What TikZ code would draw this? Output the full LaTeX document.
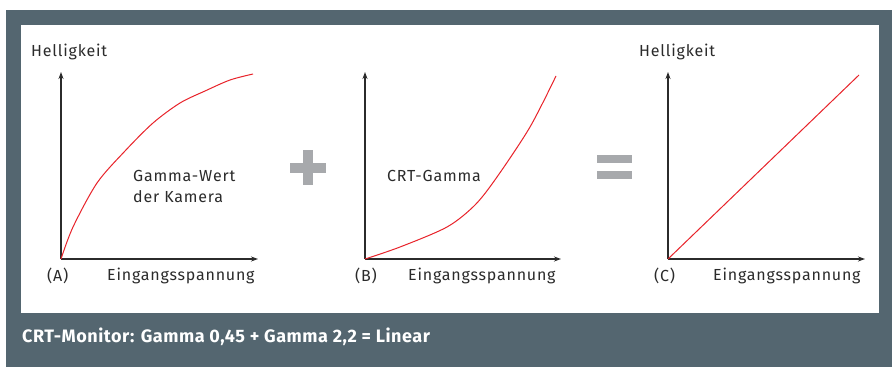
\documentclass[tikz,border=0pt]{standalone}
\usepackage{fontspec}
\setmainfont{Fira Sans}
\newfontfamily\lblfont[LetterSpace=5]{Fira Sans}
\newfontfamily\capfont[LetterSpace=3]{Fira Sans}
\usepackage{tikz}
\usetikzlibrary{positioning,arrows.meta}

\definecolor{frame}{HTML}{546670}
\definecolor{opgray}{HTML}{A7A9AC}
\definecolor{ink}{HTML}{2B2B2B}
\definecolor{gred}{HTML}{E8232A}

\tikzset{
  axis/.style = {draw = ink, line width = 1.4pt, -{Stealth[length = 7pt, width = 5pt]}},
  curve/.style = {draw = gred, line width = 1pt},
  lbl/.style = {inner sep = 0pt, anchor = west, text = ink, font = \lblfont\fontsize{16}{21}\selectfont},
  opbar/.style = {fill = opgray, draw = none}
}

\begin{document}
\begin{tikzpicture}[x = 1pt, y = -1pt]
\useasboundingbox (0,0) rectangle (892,367);
% frame and panel
\fill[frame] (6,10) rectangle (892,367);
\fill[white] (21,25) rectangle (879,313);

% chart A
\coordinate (oA) at (61,259);
\coordinate (yA) at (61,72);
\coordinate (xA) at (258,259);
\draw[axis] (oA) -- (yA);
\draw[axis] (oA) -- (xA);
\draw[curve] plot[smooth, tension = 0.5] coordinates {(61,259) (73,227) (97,183) (125,151) (153,123) (180,103) (205,91) (230,80) (253,74)};
\node[lbl] (helA) at (31,52) {Helligkeit};
\node[lbl] (tagA) at (47,276) {(A)};
\node[lbl] (einA) at (107,276) {Eingangsspannung};
\node[lbl, align = left] (gamA) at (133,186.5) {Gamma-Wert\\der Kamera};

% plus
\fill[opbar] (303,150) rectangle (313,185);
\fill[opbar] (290,162.5) rectangle (326,172.5);

% chart B
\coordinate (oB) at (365,259);
\coordinate (yB) at (365,72);
\coordinate (xB) at (561,259);
\draw[axis] (oB) -- (yB);
\draw[axis] (oB) -- (xB);
\draw[curve] plot[smooth, tension = 0.5] coordinates {(365,259) (400,247) (447,227) (475,205) (497,177) (530,127) (556,76)};
\node[lbl] (tagB) at (355,276) {(B)};
\node[lbl] (einB) at (408,276) {Eingangsspannung};
\node[lbl] (crtB) at (387,176) {CRT-Gamma};

% equals
\fill[opbar] (597,155) rectangle (632,162.5);
\fill[opbar] (597,171) rectangle (632,179);

% chart C
\coordinate (oC) at (668,259);
\coordinate (yC) at (668,72);
\coordinate (xC) at (865,259);
\draw[axis] (oC) -- (yC);
\draw[axis] (oC) -- (xC);
\coordinate (endC) at (859,75);
\draw[curve] (oC) -- (endC);
\node[lbl] (helC) at (639,52) {Helligkeit};
\node[lbl] (tagC) at (654,276) {(C)};
\node[lbl] (einC) at (713,276) {Eingangsspannung};

% caption
\node[inner sep = 0pt, anchor = west, text = white, font = \capfont\fontsize{18}{20}\selectfont\bfseries] (cap) at (22,336.5) {CRT-Monitor: Gamma 0,45 + Gamma 2,2 = Linear};
\end{tikzpicture}
\end{document}
